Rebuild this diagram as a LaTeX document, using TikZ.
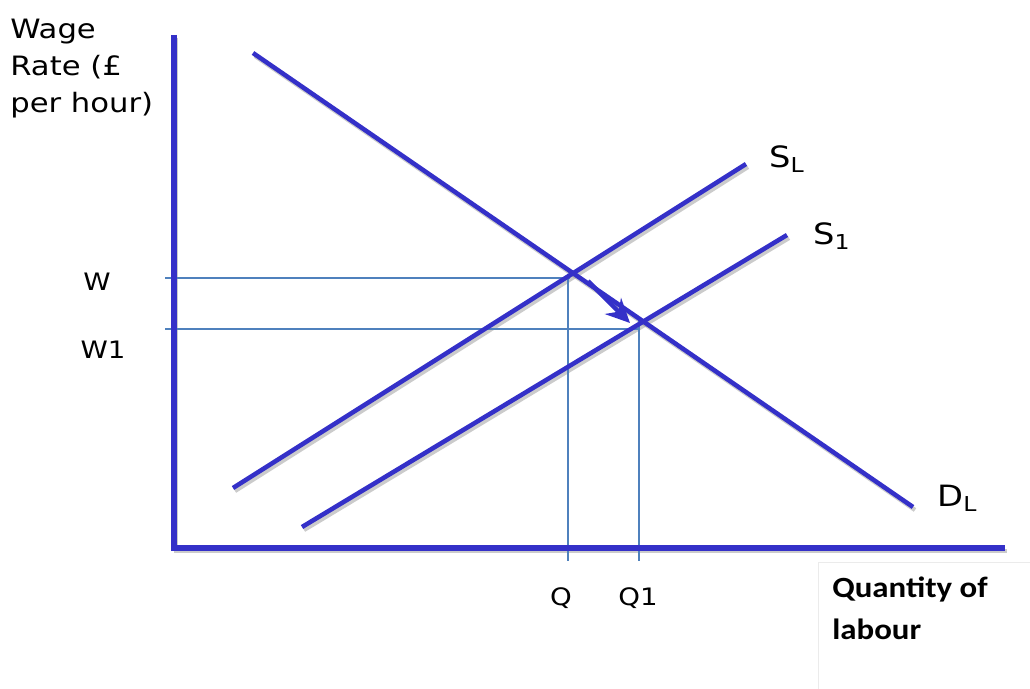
\documentclass[tikz,border=0pt]{standalone}
\usepackage{fontspec}
\usetikzlibrary{arrows.meta}
\setmainfont{DejaVu Sans}
\newfontfamily\carl{Carlito}
\definecolor{curveblue}{RGB}{52,48,200}
\definecolor{guideblue}{RGB}{79,129,189}
\begin{document}
\begin{tikzpicture}[x=0.75pt,y=-0.75pt,
  thick line/.style={draw=curveblue,line width=4pt},
  curve/.style={draw=curveblue,line width=3.4pt},
  shadowline/.style={draw=black!45,opacity=0.45,line width=3.6pt},
  guide/.style={draw=guideblue,line width=1.1pt},
  lbl/.style={inner sep=0pt,xscale=1.15},
  ]
\useasboundingbox (0,0) rectangle (1030,688);
% coordinates
\coordinate (yTop) at (174,35);
\coordinate (origin) at (174,548);
\coordinate (xEnd) at (1005,548);
\coordinate (dA) at (253,53);
\coordinate (dB) at (913,507);
\coordinate (sA) at (233,488);
\coordinate (sB) at (746,164);
\coordinate (tA) at (302,527);
\coordinate (tB) at (787,235);
\coordinate (wL) at (165,278);
\coordinate (wR) at (570,278);
\coordinate (w1L) at (165,329);
\coordinate (w1R) at (640,329);
\coordinate (qT) at (568,278);
\coordinate (qB) at (568,561);
\coordinate (q1T) at (639,320);
\coordinate (q1B) at (639,561);
\coordinate (arS) at (588,281);
\coordinate (arE) at (630,323);
% shadows
\draw[shadowline] ([shift={(2,3)}]yTop) -- ([shift={(2,3)}]origin) -- ([shift={(2,3)}]xEnd);
\foreach \a/\b in {dA/dB,sA/sB,tA/tB}
  \draw[shadowline,line width=3.2pt] ([shift={(2,3)}]\a) -- ([shift={(2,3)}]\b);
% guides
\draw[guide] (wL) -- (wR);
\draw[guide] (w1L) -- (w1R);
\draw[guide] (qT) -- (qB);
\draw[guide] (q1T) -- (q1B);
% axes
\draw[thick line,line join=miter] (yTop) -- (origin) -- (xEnd);
% curves
\draw[curve] (dA) -- (dB);
\draw[curve] (sA) -- (sB);
\draw[curve] (tA) -- (tB);
% arrow
\draw[draw=curveblue,line width=3.2pt,-{Stealth[length=18pt,width=17pt,inset=6pt]}] (arS) -- (arE);
% labels
\node[lbl,anchor=north west,align=left,font=\fontsize{20}{27.75}\selectfont] (ylab) at (10,19) {Wage\\Rate (£\\per hour)};
\node[lbl,font=\fontsize{18}{20}\selectfont] (wlab) at (97,282) {W};
\node[lbl,font=\fontsize{18}{20}\selectfont] (w1lab) at (103,350) {W1};
\node[lbl,font=\fontsize{18}{20}\selectfont] (qlab) at (561,598) {Q};
\node[lbl,font=\fontsize{18}{20}\selectfont] (q1lab) at (638,598) {Q1};
\node[lbl,anchor=base west,font=\fontsize{22}{26}\selectfont] (slab) at (769,167) {S\textsubscript{L}};
\node[lbl,anchor=base west,font=\fontsize{22}{26}\selectfont] (s1lab) at (813,244) {S\textsubscript{1}};
\node[lbl,anchor=base west,font=\fontsize{22}{26}\selectfont] (dlab) at (937,506) {D\textsubscript{L}};
\draw[draw=black!8,line width=0.6pt] (818,562) rectangle (1031,689);
\node[anchor=north west,inner sep=0pt,xscale=1.12,align=left,font=\carl\bfseries\fontsize{22}{31.5}\selectfont] (xlab) at (832,577) {Quantity of\\labour};
\end{tikzpicture}
\end{document}
